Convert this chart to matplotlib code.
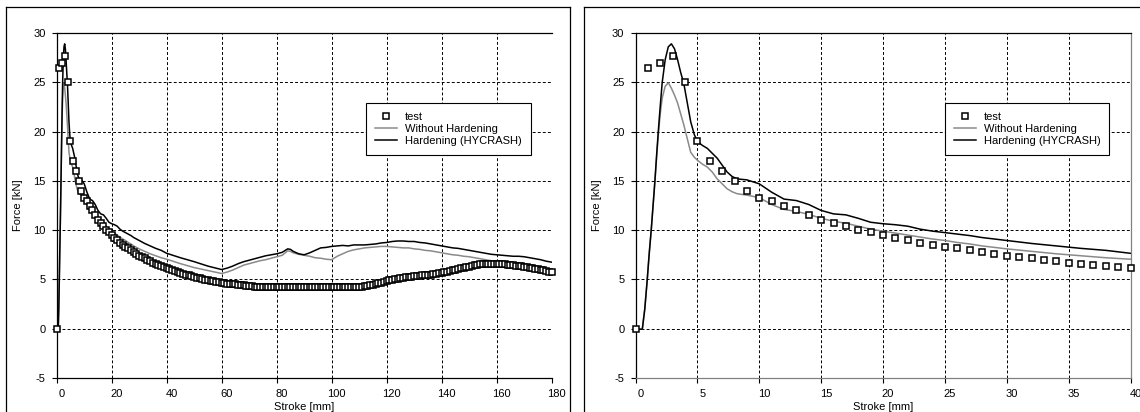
import numpy as np
import matplotlib
matplotlib.use("Agg")
import matplotlib.pyplot as plt
from matplotlib.lines import Line2D
from matplotlib.transforms import ScaledTranslation

# test measurements, one sample per mm of stroke (0..180 mm)
test_force = [
    0.0, 26.5, 27.0, 27.7, 25.0, 19.0, 17.0, 16.0, 15.0, 14.0,
    13.3, 13.0, 12.5, 12.0, 11.5, 11.0, 10.7, 10.4, 10.0, 9.8,
    9.5, 9.2, 9.0, 8.7, 8.5, 8.3, 8.2, 8.0, 7.8, 7.6,
    7.4, 7.3, 7.2, 7.0, 6.9, 6.7, 6.6, 6.5, 6.4, 6.3,
    6.2, 6.1, 6.0, 5.9, 5.8, 5.7, 5.6, 5.5, 5.45, 5.35,
    5.25, 5.15, 5.1, 5.0, 4.95, 4.9, 4.85, 4.8, 4.75, 4.7,
    4.65, 4.6, 4.55, 4.55, 4.5, 4.5, 4.45, 4.4, 4.4, 4.35,
    4.3, 4.3, 4.25, 4.25, 4.2, 4.2, 4.2, 4.2, 4.2, 4.2,
    4.2, 4.2, 4.2, 4.2, 4.2, 4.2, 4.25, 4.25, 4.2, 4.2,
    4.2, 4.2, 4.2, 4.2, 4.2, 4.2, 4.2, 4.2, 4.2, 4.2,
    4.2, 4.2, 4.2, 4.2, 4.2, 4.2, 4.2, 4.2, 4.2, 4.2,
    4.25, 4.25, 4.3, 4.35, 4.4, 4.45, 4.5, 4.6, 4.65, 4.75,
    4.85, 4.9, 4.95, 5.0, 5.05, 5.1, 5.15, 5.2, 5.2, 5.25,
    5.3, 5.3, 5.35, 5.4, 5.4, 5.45, 5.5, 5.55, 5.6, 5.65,
    5.7, 5.75, 5.8, 5.9, 5.95, 6.0, 6.1, 6.15, 6.2, 6.25,
    6.3, 6.4, 6.45, 6.5, 6.55, 6.55, 6.6, 6.6, 6.6, 6.6,
    6.6, 6.6, 6.55, 6.55, 6.5, 6.5, 6.45, 6.4, 6.4, 6.35,
    6.3, 6.25, 6.2, 6.15, 6.1, 6.05, 6.0, 5.95, 5.9, 5.8,
    5.75,
]
test_stroke = np.arange(len(test_force))

# simulation curves
sim_stroke = [
    0.0, 0.3, 0.55, 0.75, 0.95, 1.1, 1.27, 1.42, 1.57, 1.7,
    1.84, 2.0, 2.16, 2.4, 2.65, 2.9, 3.15, 3.4, 3.65, 3.9,
    4.2, 4.46, 4.75, 5.0, 5.4, 5.8, 6.2, 6.6, 7.0, 7.4,
    7.8, 8.2, 9.0, 10, 11, 12, 13, 14, 15, 16,
    17, 18, 19, 20, 21, 22, 23, 24, 25, 26,
    27, 28, 29, 30, 32, 34, 36, 38, 40, 45,
    50, 55, 60, 62, 64, 66, 68, 70, 72, 74,
    76, 78, 80, 82, 84, 85, 86, 88, 90, 92,
    94, 96, 98, 100, 102, 104, 106, 108, 110, 112,
    114, 116, 118, 120, 122, 124, 126, 128, 130, 132,
    134, 136, 138, 140, 142, 144, 146, 148, 150, 152,
    154, 156, 158, 160, 162, 164, 166, 168, 170, 172,
    174, 176, 178, 180,
]
hardening = [
    0.0, -0.05, -0.05, 2.0, 5.0, 7.5, 10.0, 12.5, 15.0, 17.5,
    20.0, 22.6, 25.0, 27.3, 28.6, 28.9, 28.4, 27.3, 26.0, 24.9,
    22.8, 21.0, 19.7, 19.0, 18.6, 18.3, 17.8, 17.3, 16.6, 15.9,
    15.45, 15.2, 15.1, 14.7, 13.85, 13.15, 13.0, 12.6, 12.0, 11.65,
    11.55, 11.2, 10.8, 10.65, 10.55, 10.4, 10.1, 9.9, 9.75, 9.6,
    9.45, 9.25, 9.1, 8.95, 8.65, 8.4, 8.15, 7.95, 7.65, 7.2,
    6.8, 6.35, 6.0, 6.15, 6.35, 6.6, 6.8, 6.95, 7.1, 7.25,
    7.4, 7.5, 7.6, 7.75, 8.1, 8.05, 7.85, 7.6, 7.5, 7.7,
    7.95, 8.2, 8.25, 8.35, 8.4, 8.45, 8.4, 8.5, 8.5, 8.5,
    8.55, 8.6, 8.7, 8.75, 8.85, 8.9, 8.9, 8.85, 8.85, 8.75,
    8.7, 8.6, 8.5, 8.4, 8.3, 8.2, 8.15, 8.05, 7.95, 7.85,
    7.75, 7.65, 7.55, 7.5, 7.45, 7.4, 7.35, 7.35, 7.3, 7.2,
    7.1, 7.0, 6.85, 6.75,
]
without_hardening = [
    0.0, -0.05, -0.05, 2.0, 5.0, 7.5, 10.0, 12.5, 15.0, 17.3,
    19.6, 21.8, 23.4, 24.6, 24.95, 24.4, 23.7, 22.9, 21.8, 20.7,
    19.2, 17.9, 17.4, 17.1, 16.7, 16.4, 15.9, 15.2, 14.7, 14.2,
    13.9, 13.7, 13.55, 13.3, 12.6, 12.1, 11.9, 11.6, 11.2, 10.9,
    10.7, 10.4, 10.1, 9.9, 9.7, 9.5, 9.3, 9.1, 8.95, 8.75,
    8.6, 8.4, 8.25, 8.1, 7.85, 7.6, 7.4, 7.2, 7.05, 6.6,
    6.2, 5.9, 5.6, 5.75, 5.95, 6.2, 6.45, 6.6, 6.75, 6.9,
    7.0, 7.15, 7.3, 7.45, 7.9, 7.85, 7.7, 7.55, 7.45, 7.35,
    7.2, 7.15, 7.05, 7.0, 7.35, 7.6, 7.85, 8.0, 8.1, 8.2,
    8.25, 8.3, 8.35, 8.35, 8.3, 8.25, 8.2, 8.2, 8.1, 8.05,
    7.95, 7.9, 7.8, 7.7, 7.6, 7.5, 7.45, 7.35, 7.3, 7.2,
    7.1, 7.0, 6.9, 6.8, 6.75, 6.7, 6.6, 6.55, 6.5, 6.45,
    6.35, 6.2, 6.05, 5.9,
]

plt.rcParams["font.family"] = ["Liberation Sans", "DejaVu Sans"]
plt.rcParams["font.size"] = 8
plt.rcParams["axes.unicode_minus"] = False

W, H = 1140, 412
fig = plt.figure(figsize=(W / 100, H / 100), dpi=100)


def fx(px):
    return px / W


def fy(py):
    return 1 - py / H


# outer frames around both panels
for xs, ys in [([6, 6], [7, 420]), ([570, 570], [7, 420]), ([6, 570], [7, 7]),
               ([584, 584], [7, 420]), ([584, 1150], [7, 7])]:
    fig.add_artist(Line2D([fx(x) for x in xs], [fy(y) for y in ys],
                          color="black", lw=0.9, transform=fig.transFigure))

ax1 = fig.add_axes([fx(56.7), fy(378), 495 / W, 345 / H])
ax2 = fig.add_axes([fx(635.5), fy(378), 495 / W, 345 / H])


def draw_panel(ax, xmax, xstep, n_test, edge_col):
    wo, = ax.plot(sim_stroke, without_hardening, color="#8a8a8a", lw=1.1, zorder=2)
    hd, = ax.plot(sim_stroke, hardening, color="black", lw=1.1, zorder=2)
    ts, = ax.plot(test_stroke[:n_test], test_force[:n_test], "s", ms=4.6,
                  mfc="white", mec="black", mew=1.1, clip_on=False, zorder=3)
    ax.set_xlim(0, xmax)
    ax.set_ylim(-5, 30)
    ax.set_xticks(np.arange(0, xmax + 1, xstep))
    ax.set_yticks(np.arange(-5, 31, 5))
    ax.grid(True, color="black", linestyle=(0, (3, 2.2)), lw=0.7)
    ax.spines["top"].set_color("black")
    ax.spines["left"].set_color("black")
    ax.spines["bottom"].set_color(edge_col)
    if edge_col == "black":
        ax.spines["right"].set_visible(False)
    else:
        ax.spines["right"].set_color(edge_col)
    for s in ax.spines.values():
        s.set_linewidth(0.9)
    ax.tick_params(direction="out", length=3.5, width=0.8, pad=4.5,
                   labelsize=8, top=False, right=False)
    off = ScaledTranslation(5 / 100, 0, fig.dpi_scale_trans)
    for lab in ax.get_xticklabels():
        lab.set_transform(lab.get_transform() + off)
    ax.set_xlabel("Stroke [mm]", fontsize=8)
    ax.xaxis.set_label_coords(0.5, -29 / 345)
    ax.xaxis.label.set_va("center")
    ax.set_ylabel("Force [kN]", fontsize=8)
    ax.yaxis.set_label_coords(-39 / 495, 0.5)
    ax.yaxis.label.set_va("center")
    leg = ax.legend([ts, wo, hd], ["test", "Without Hardening", "Hardening (HYCRASH)"],
                    loc="upper left", bbox_to_anchor=(0.625, 0.797),
                    fancybox=False, edgecolor="black", framealpha=1,
                    borderaxespad=0, handlelength=2.0, handletextpad=0.7,
                    labelspacing=0.2, borderpad=0.8, fontsize=8)
    leg.get_frame().set_linewidth(0.8)
    leg.set_zorder(5)


draw_panel(ax1, 180, 20, len(test_force), "black")
draw_panel(ax2, 40, 5, 41, "#808080")

fig.savefig("out.png", dpi=100)
